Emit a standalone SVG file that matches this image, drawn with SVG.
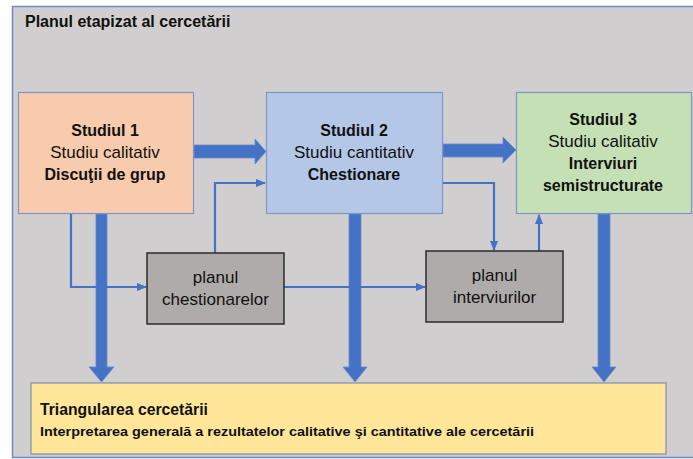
<svg xmlns="http://www.w3.org/2000/svg" width="693" height="459" viewBox="0 0 693 459">
<style>
text{font-family:"Liberation Sans",Arial,sans-serif;fill:#111;}
.b{font-weight:bold;font-size:16px;}
.r{font-size:17px;}
.c{text-anchor:middle;}
.box{stroke:#7F95C8;stroke-width:1.2;}
.plan{fill:#AEABAA;stroke:#2B2B2B;stroke-width:1.5;}
.thin{fill:none;stroke:#4472C4;stroke-width:2.2;}
.thick{fill:#4472C4;stroke:#6A8CCC;stroke-width:0.8;}
</style>
<defs>
<marker id="ah" markerWidth="10" markerHeight="8" refX="9" refY="4" orient="auto" markerUnits="userSpaceOnUse">
<path d="M0,0 L10,4 L0,8 Z" fill="#4472C4"/>
</marker>
</defs>
<rect x="0" y="0" width="693" height="459" fill="#FFFFFF"/>
<g id="frame">
<rect x="12.5" y="6.5" width="700" height="451" fill="#D0CECE" stroke="#6F8BC6" stroke-width="1.5"/>
<text x="25" y="27" class="b">Planul etapizat al cercetării</text>
</g>
<g id="connectors">
<path class="thick" d="M194,145 H255 V139 L266,151.5 L255,164 V158 H194 Z"/>
<path class="thick" d="M443,144 H503 V137 L516,150 L503,163 V157 H443 Z"/>
<path class="thick" d="M96,214 V367 H89 L101.5,382 L114,367 H107 V214 Z"/>
<path class="thick" d="M349,214 V367 H343 L355,382 L367,367 H361 V214 Z"/>
<path class="thick" d="M598,214 V367 H592 L604,382 L616,367 H610 V214 Z"/>
<path class="thin" d="M71,214 V287 H146" marker-end="url(#ah)"/>
<path class="thin" d="M215,253 V183 H265" marker-end="url(#ah)"/>
<path class="thin" d="M284,287 H425" marker-end="url(#ah)"/>
<path class="thin" d="M443,183 H494 V250" marker-end="url(#ah)"/>
<path class="thin" d="M539,251 V215" marker-end="url(#ah)"/>
</g>
<g id="studiul1">
<rect class="box" x="18.5" y="92.5" width="175" height="121" fill="#F8CBAD"/>
<text x="105" y="136" class="b c">Studiul 1</text>
<text x="105" y="158" class="r c">Studiu calitativ</text>
<text x="105" y="180" class="b c">Discuţii de grup</text>
</g>
<g id="studiul2">
<rect class="box" x="266.5" y="92.5" width="176" height="121" fill="#B4C7E7"/>
<text x="354" y="136" class="b c">Studiul 2</text>
<text x="354" y="158" class="r c">Studiu cantitativ</text>
<text x="354" y="180" class="b c">Chestionare</text>
</g>
<g id="studiul3">
<rect class="box" x="516.5" y="92.5" width="175" height="121" fill="#C5E0B4"/>
<text x="603" y="125" class="b c">Studiul 3</text>
<text x="603" y="147" class="r c">Studiu calitativ</text>
<text x="603" y="169" class="b c">Interviuri</text>
<text x="603" y="191" class="b c">semistructurate</text>
</g>
<g id="planul-chestionarelor">
<rect class="plan" x="147" y="253" width="137" height="71"/>
<text x="215.5" y="283" class="r c">planul</text>
<text x="215.5" y="305" class="r c">chestionarelor</text>
</g>
<g id="planul-interviurilor">
<rect class="plan" x="426" y="251" width="137" height="71"/>
<text x="494.5" y="281" class="r c">planul</text>
<text x="494.5" y="303" class="r c">interviurilor</text>
</g>
<g id="triangularea">
<rect x="31" y="383" width="635" height="71" fill="#FFE699" stroke="#7F8FB0" stroke-width="1.2"/>
<text x="40" y="415" class="b" font-size="16" textLength="168" lengthAdjust="spacingAndGlyphs">Triangularea cercetării</text>
<text x="40" y="436" font-weight="bold" font-size="12.5" textLength="494" lengthAdjust="spacingAndGlyphs">Interpretarea generală a rezultatelor calitative şi cantitative ale cercetării</text>
</g>
</svg>
